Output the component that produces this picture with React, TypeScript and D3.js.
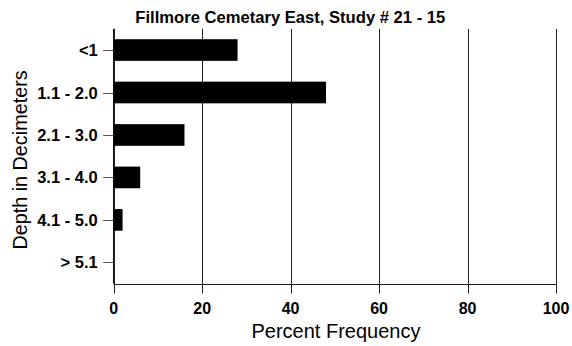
import React from "react";
import * as d3 from "d3";

const categories = ["<1", "1.1 - 2.0", "2.1 - 3.0", "3.1 - 4.0", "4.1 - 5.0", "> 5.1"];
const values = [28, 48, 16, 6, 2, 0];
const xTicks = [0, 20, 40, 60, 80, 100];
const title = "Fillmore Cemetary East, Study # 21 - 15";
const xLabel = "Percent Frequency";
const yLabel = "Depth in Decimeters";

const W = 572;
const H = 346;
const left = 113.7;
const right = 556;
const top = 28.8;
const bottom = 283.6;

export default function App() {
  const x = d3.scaleLinear().domain([0, 100]).range([left, right]);
  const y = d3.scaleBand<string>().domain(categories).range([top, bottom]).paddingInner(0.49).paddingOuter(0.245);
  const font = "Arial, 'Liberation Sans', Helvetica, sans-serif";
  return (
    <svg width={W} height={H} style={{ position: "absolute", left: 0, top: 0, background: "#fff" }} fontFamily={font}>
      <rect x={0} y={0} width={W} height={H} fill="#fff" />
      <text x={290.3} y={23} textAnchor="middle" fontWeight="bold" fontSize={16.6}>{title}</text>
      {xTicks.map((t) => (
        <line key={"g" + t} x1={Math.round(x(t)) + 0.5} x2={Math.round(x(t)) + 0.5} y1={top} y2={bottom + 10} stroke="#222" strokeWidth={1} />
      ))}
      <line x1={113.5} x2={113.5} y1={top} y2={bottom} stroke="#111" strokeWidth={1} />
      {categories.map((c, i) => (
        <rect key={"b" + c} x={x(0)} y={y(c)!} width={x(values[i]) - x(0)} height={y.bandwidth()} fill="#000" />
      ))}
      <line x1={left} x2={right} y1={Math.round(bottom) + 0.5} y2={Math.round(bottom) + 0.5} stroke="#222" strokeWidth={1} />
      {categories.map((c) => {
        const cy = Math.round(y(c)! + y.bandwidth() / 2) + 0.5;
        return (
          <g key={"t" + c}>
            <line x1={left - 10.5} x2={left} y1={cy} y2={cy} stroke="#555" strokeWidth={1} />
            <text x={left - 16} y={cy + 5.6} textAnchor="end" fontWeight="bold" fontSize={16.5}>{c}</text>
          </g>
        );
      })}
      {xTicks.map((t) => (
        <text key={"xl" + t} x={x(t)} y={314.3} textAnchor="middle" fontWeight="bold" fontSize={16}>{t}</text>
      ))}
      <text x={336} y={337.5} textAnchor="middle" fontSize={20}>{xLabel}</text>
      <text transform={`translate(26.5,160) rotate(-90)`} textAnchor="middle" fontSize={19.8}>{yLabel}</text>
    </svg>
  );
}
